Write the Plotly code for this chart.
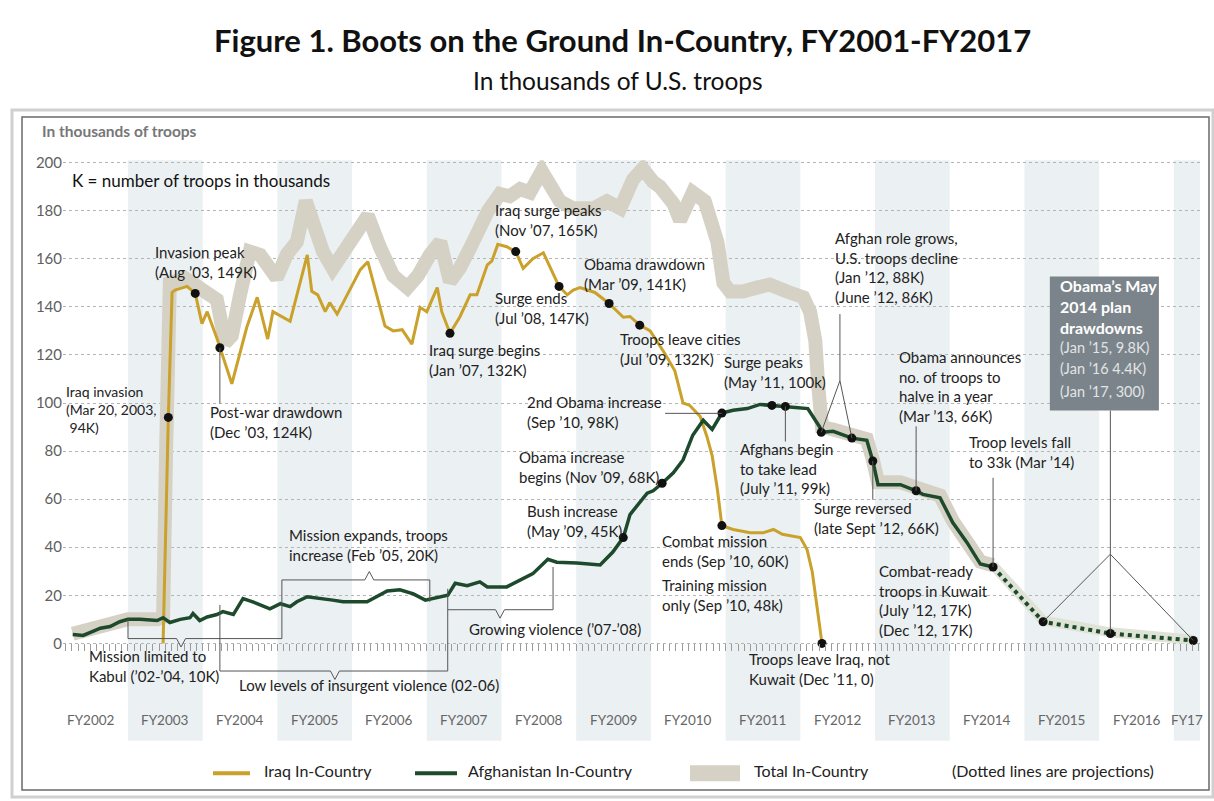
import plotly.graph_objects as go

W, H = 1214, 801

# ---------------- data (decimal calendar years, thousands of troops) ----------------
iraq_t = [2003.22, 2003.29, 2003.34, 2003.38, 2003.54, 2003.65, 2003.74, 2003.81, 2003.94, 2003.98,
          2004.14, 2004.34, 2004.48, 2004.62, 2004.69, 2004.92, 2005.15, 2005.21, 2005.29, 2005.39,
          2005.45, 2005.55, 2005.86, 2005.96, 2006.08, 2006.19, 2006.30, 2006.42, 2006.55, 2006.66,
          2006.75, 2006.89, 2006.95, 2007.06, 2007.19, 2007.33, 2007.42, 2007.56, 2007.62, 2007.70,
          2007.82, 2007.94, 2008.04, 2008.17, 2008.31, 2008.43, 2008.52, 2008.63, 2008.71, 2008.80,
          2009.00, 2009.19, 2009.38, 2009.47, 2009.60, 2009.74, 2009.94, 2010.07, 2010.18, 2010.27,
          2010.41, 2010.50, 2010.57, 2010.64, 2010.70, 2010.85, 2011.08, 2011.25, 2011.39, 2011.51,
          2011.75, 2011.84, 2011.91, 2011.97, 2012.04]
iraq_k = [0, 94, 146, 147, 148.5, 145.6, 133, 138, 127, 123,
          108, 131.5, 144, 126.6, 138, 134, 161.6, 146.5, 145, 138,
          141.8, 137, 155.5, 158.8, 145, 132, 130, 130.5, 124.5, 139.8,
          138, 148, 138, 129, 135.7, 145, 145, 157.5, 159, 166,
          165, 163, 156, 160, 162.5, 154.6, 148.5, 145, 147, 148,
          146, 141.4, 135.7, 136, 132.4, 130, 120.4, 113.4, 100, 99,
          94.4, 86, 78, 64, 49, 47.4, 46, 46, 47.4, 45.4,
          44, 39, 29.7, 16, 0]

afghan_t = [2002.01, 2002.15, 2002.28, 2002.38, 2002.51, 2002.64, 2002.75, 2002.91, 2003.14, 2003.22,
            2003.31, 2003.45, 2003.58, 2003.62, 2003.71, 2003.81, 2003.94, 2004.02, 2004.16, 2004.29,
            2004.42, 2004.65, 2004.79, 2004.92, 2005.01, 2005.15, 2005.49, 2005.63, 2005.95, 2006.22,
            2006.39, 2006.57, 2006.73, 2007.03, 2007.13, 2007.29, 2007.46, 2007.56, 2007.82, 2008.00,
            2008.17, 2008.37, 2008.49, 2008.76, 2009.07, 2009.24, 2009.38, 2009.47, 2009.56, 2009.70,
            2009.78, 2009.90, 2010.05, 2010.18, 2010.31, 2010.45, 2010.57, 2010.70, 2010.85, 2011.04,
            2011.21, 2011.37, 2011.55, 2011.85, 2012.01, 2012.03, 2012.19, 2012.44, 2012.64, 2012.72,
            2012.79, 2013.09, 2013.30, 2013.39, 2013.62, 2013.79, 2013.98, 2014.16, 2014.33]
afghan_k = [3.7, 3.3, 5, 6.3, 7, 9, 10, 10, 9.5, 10.7,
            8.7, 10, 10.7, 12.4, 9.5, 11, 12, 13.2, 12, 18.6,
            17.3, 14.4, 16.5, 15.3, 17.3, 19.4, 18, 17.3, 17.3, 21.8,
            22.3, 20.6, 18, 20, 25, 24, 25.6, 23.5, 23.5, 26.4,
            29, 35, 33.8, 33.4, 32.6, 38, 44, 53.6, 57, 62.5,
            63.5, 66.6, 71, 76.3, 86.6, 92.8, 89, 95.8, 97, 97.7,
            99.4, 99, 98.6, 97.7, 90, 87.8, 88.2, 85.4, 84.5, 75.9,
            66, 66, 63.5, 62, 60.6, 50.3, 42, 33, 31.8]

afghan_proj_t = [2014.33, 2015.00, 2015.90, 2017.01]
afghan_proj_k = [31.8, 9.0, 4.1, 1.2]

total_t = [2002.01, 2002.38, 2002.75, 2003.14, 2003.22, 2003.26, 2003.31, 2003.51, 2003.71, 2003.85,
           2003.94, 2004.05, 2004.14, 2004.25, 2004.38, 2004.52, 2004.61, 2004.74, 2004.88, 2005.01,
           2005.13, 2005.23, 2005.36, 2005.49, 2005.63, 2005.86, 2005.96, 2006.12, 2006.30, 2006.49,
           2006.63, 2006.79, 2006.93, 2007.06, 2007.19, 2007.33, 2007.46, 2007.57, 2007.73, 2007.86,
           2008.00, 2008.13, 2008.29, 2008.43, 2008.53, 2008.71, 2008.98, 2009.16, 2009.34, 2009.51,
           2009.64, 2009.78, 2009.87, 2010.05, 2010.14, 2010.31, 2010.47, 2010.64, 2010.72, 2010.81,
           2010.98, 2011.17, 2011.34, 2011.57, 2011.79, 2011.88, 2011.95, 2011.99, 2012.04, 2012.19,
           2012.44, 2012.64, 2012.72, 2012.79, 2013.09, 2013.30, 2013.39, 2013.62, 2013.79, 2013.98,
           2014.16, 2014.33]
total_k = [4, 6.5, 10, 10, 11, 80, 150, 152, 148, 146,
           143, 125, 128, 145, 163, 161.6, 157.5, 152, 162, 167,
           184, 175, 163, 156, 162, 174, 178, 165, 153, 148,
           153, 161.6, 167, 150.5, 156, 164.5, 174, 180, 187, 186,
           189, 187.6, 196.5, 190.5, 184, 181, 181, 184, 181, 193,
           197.5, 192, 190, 183, 176, 187.6, 184, 167, 150, 146.4,
           146.4, 148, 149.3, 146.4, 144, 138, 126, 107, 90, 89,
           86, 85, 76.5, 67, 67, 64.5, 63, 61.5, 51, 43,
           34, 32.5]
total_proj_t = [2014.33, 2015.00, 2015.90, 2017.01]
total_proj_k = [32.5, 9.6, 4.6, 1.5]

iraq_event_t = [2003.29, 2003.65, 2003.98, 2007.06, 2007.94, 2008.52, 2009.19, 2009.60, 2010.70, 2012.04]
iraq_event_k = [94, 145.6, 123, 129, 163, 148.5, 141.4, 132.4, 49, 0]
afghan_event_t = [2009.38, 2009.90, 2010.70, 2011.37, 2011.55, 2012.03, 2012.44, 2012.72, 2013.30,
                  2014.33, 2015.00, 2015.90, 2017.01]
afghan_event_k = [44, 66.6, 95.8, 99, 98.6, 87.8, 85.4, 75.9, 63.5, 31.8, 9.0, 4.1, 1.2]

fy_years = list(range(2002, 2018))
fy_labels = ["FY2002", "FY2003", "FY2004", "FY2005", "FY2006", "FY2007", "FY2008", "FY2009",
             "FY2010", "FY2011", "FY2012", "FY2013", "FY2014", "FY2015", "FY2016", "FY17"]
shaded_fy = [2003, 2005, 2007, 2009, 2011, 2013, 2015, 2017]
y_ticks = [0, 20, 40, 60, 80, 100, 120, 140, 160, 180, 200]

# ---------------- styling / geometry ----------------
FONT = "Lato, Roboto, sans-serif"
GOLD = "#c9a12b"
GREEN = "#1d4a2c"
BEIGE = "#d5d2c5"
BAND = "#ebf0f2"
TXT = "#222222"
ANN_SIZE = 15
Y_SHIFT = 2.2   # lift of top-anchored text blocks (thousands)

X_RANGE = [2001.88, 2017.10]
Y_RANGE = [-40.5, 201]
X_DOM = [63 / W, 1200 / W]
Y_DOM = [1 - 740.2 / H, 1 - 154.6 / H]
zero_pos = Y_DOM[0] + (0 - Y_RANGE[0]) / (Y_RANGE[1] - Y_RANGE[0]) * (Y_DOM[1] - Y_DOM[0])


def px(x):
    return x / W


def py(y):
    return 1 - y / H


fig = go.Figure()

# total band
fig.add_trace(go.Scatter(x=total_t, y=total_k, mode="lines",
                         line=dict(color=BEIGE, width=14), hoverinfo="skip", showlegend=False))
fig.add_trace(go.Scatter(x=total_proj_t, y=total_proj_k, mode="lines",
                         line=dict(color="#dfe3d5", width=10), hoverinfo="skip", showlegend=False))
# Iraq
fig.add_trace(go.Scatter(x=iraq_t, y=iraq_k, mode="lines",
                         line=dict(color=GOLD, width=3), showlegend=False))
# Afghanistan
fig.add_trace(go.Scatter(x=afghan_t, y=afghan_k, mode="lines",
                         line=dict(color=GREEN, width=3.5), showlegend=False))
fig.add_trace(go.Scatter(x=afghan_proj_t, y=afghan_proj_k, mode="lines",
                         line=dict(color=GREEN, width=4, dash="dot"), showlegend=False))
# event dots
fig.add_trace(go.Scatter(x=iraq_event_t + afghan_event_t, y=iraq_event_k + afghan_event_k,
                         mode="markers", marker=dict(color="#111111", size=9), showlegend=False))

shapes = []
# shaded fiscal-year bands (FY runs Oct 1 of previous year to Sep 30)
for fy in shaded_fy:
    shapes.append(dict(type="rect", xref="x", yref="y domain", x0=fy - 0.25, x1=fy + 0.75,
                       y0=0, y1=1, fillcolor=BAND, line=dict(width=0), layer="below"))

LEAD = dict(color="#555555", width=1)


def seg(x0, y0, x1, y1):
    shapes.append(dict(type="line", xref="x", yref="y", x0=x0, y0=y0, x1=x1, y1=y1, line=LEAD))


# leader lines
seg(iraq_event_t[2], iraq_event_k[2], iraq_event_t[2], 99.8)
seg(2009.94, 95.7, afghan_event_t[2], 95.7)
seg(afghan_event_t[4], afghan_event_k[4], afghan_event_t[4], 84.0)
seg(2012.28, 137, 2012.28, 109.3)
seg(2012.28, 109.3, afghan_event_t[5], afghan_event_k[5])
seg(2012.28, 109.3, afghan_event_t[6], afghan_event_k[6])
seg(afghan_event_t[8], 90.3, afghan_event_t[8], afghan_event_k[8])
seg(afghan_event_t[7], afghan_event_k[7], afghan_event_t[7], 59.8)
seg(afghan_event_t[9], 68.9, afghan_event_t[9], afghan_event_k[9])
seg(2015.90, 96.9, 2015.90, 37.1)
seg(2015.90, 37.1, afghan_event_t[10], afghan_event_k[10])
seg(2015.90, 37.1, afghan_event_t[11], afghan_event_k[11])
seg(2015.90, 37.1, afghan_event_t[12], afghan_event_k[12])


def bracket(x0, x1, y, yend0, yend1, xm, notch):
    d = 0.06
    path = (f"M {x0},{yend0} L {x0},{y} L {xm - d},{y} L {xm},{y + notch} "
            f"L {xm + d},{y} L {x1},{y} L {x1},{yend1}")
    shapes.append(dict(type="path", xref="x", yref="y", path=path, line=LEAD))


bracket(2002.75, 2004.81, 2.0, 10.0, 26.4, 2003.46, -3.5)     # mission limited to Kabul
bracket(2004.81, 2006.79, 26.4, 26.4, 17.3, 2005.98, 3.5)     # mission expands
bracket(2003.98, 2007.03, -11.5, 16.0, 22.7, 2005.52, -3.5)   # low levels of violence
bracket(2007.03, 2008.44, 14.0, 14.0, 31.8, 2007.73, -3.5)    # growing violence

# Obama plan box
shapes.append(dict(type="rect", xref="x", yref="y", x0=2015.09, x1=2016.55, y0=96.9, y1=152.6,
                   fillcolor="#7b848a", line=dict(width=0)))

# frame
shapes.append(dict(type="rect", xref="paper", yref="paper", x0=px(12), x1=px(1213), y0=py(797), y1=py(104),
                   line=dict(color="#d0d0d0", width=3)))
shapes.append(dict(type="rect", xref="paper", yref="paper", x0=px(22), x1=px(1209), y0=py(790), y1=py(111),
                   line=dict(color="#6a6a6a", width=1.5)))

# legend samples
LY = 773
shapes.append(dict(type="line", xref="paper", yref="paper", x0=px(213), x1=px(250), y0=py(LY), y1=py(LY),
                   line=dict(color=GOLD, width=4)))
shapes.append(dict(type="line", xref="paper", yref="paper", x0=px(415), x1=px(457), y0=py(LY), y1=py(LY),
                   line=dict(color=GREEN, width=4)))
shapes.append(dict(type="rect", xref="paper", yref="paper", x0=px(690), x1=px(740), y0=py(LY + 8),
                   y1=py(LY - 8), fillcolor=BEIGE, line=dict(width=0)))

annotations = []


def note(x, y, text, size=ANN_SIZE, color=TXT, bold=False, xanchor="left", yanchor="top", xref="x", yref="y",
         family=FONT):
    annotations.append(dict(x=x, y=y, xref=xref, yref=yref, text=(f"<b>{text}</b>" if bold else text),
                            showarrow=False, xanchor=xanchor, yanchor=yanchor, align="left",
                            font=dict(family=family, size=size, color=color)))


blocks = [
    (2003.08, 165.4, "Invasion peak<br>(Aug ’03, 149K)"),
    (2003.82, 98.6, "Post-war drawdown<br>(Dec ’03, 124K)"),
    (2006.75, 124.5, "Iraq surge begins<br>(Jan ’07, 132K)"),
    (2007.64, 182.7, "Iraq surge peaks<br>(Nov ’07, 165K)"),
    (2007.64, 146.0, "Surge ends<br>(Jul ’08, 147K)"),
    (2008.83, 160.4, "Obama drawdown<br>(Mar ’09, 141K)"),
    (2009.31, 129.0, "Troops leave cities<br>(Jul ’09, 132K)"),
    (2010.70, 119.6, "Surge peaks<br>(May ’11, 100k)"),
    (2008.06, 102.7, "2nd Obama increase<br>(Sep ’10, 98K)"),
    (2007.96, 80.0, "Obama increase<br>begins (Nov ’09, 68K)"),
    (2008.06, 57.3, "Bush increase<br>(May ’09, 45K)"),
    (2009.87, 45.0, "Combat mission<br>ends (Sep ’10, 60K)"),
    (2009.87, 26.8, "Training mission<br>only (Sep ’10, 48k)"),
    (2010.92, 83.3, "Afghans begin<br>to take lead<br>(July ’11, 99k)"),
    (2012.19, 171.1, "Afghan role grows,<br>U.S. troops decline<br>(Jan ’12, 88K)<br>(June ’12, 86K)"),
    (2013.04, 121.6, "Obama announces<br>no. of troops to<br>halve in a year<br>(Mar ’13, 66K)"),
    (2011.91, 58.6, "Surge reversed<br>(late Sept ’12, 66K)"),
    (2013.98, 86.2, "Troop levels fall<br>to 33k (Mar ’14)"),
    (2012.78, 32.6, "Combat-ready<br>troops in Kuwait<br>(July ’12, 17K)<br>(Dec ’12, 17K)"),
    (2011.04, -4.1, "Troops leave Iraq, not<br>Kuwait (Dec ’11, 0)"),
    (2002.20, -2.9, "Mission limited to<br>Kabul (’02-’04, 10K)"),
    (2004.88, 47.4, "Mission expands, troops<br>increase (Feb ’05, 20K)"),
    (2007.29, 8.2, "Growing violence (’07-’08)"),
    (2004.21, -14.8, "Low levels of insurgent violence (02-06)"),
]
for bx, by, bt in blocks:
    note(bx, by + Y_SHIFT, bt)
note(2001.90, 106.8 + Y_SHIFT, "Iraq invasion<br>(Mar 20, 2003,<br> 94K)", size=14)

# box texts
note(2015.20, 150.9 + 2.8, "Obama’s May<br>2014 plan<br>drawdowns", size=16, color="white", bold=True)
for yy, tt in [(121.6, "(Jan ’15, 9.8K)"), (112.6, "(Jan ’16 4.4K)"), (103.1, "(Jan ’17, 300)")]:
    note(2015.20, yy + 1.6, tt, size=14.5, color="#e1e5e8", yanchor="middle")

# fiscal year labels (centred in each fiscal year; the last one in its visible part)
fy_x = [fy + 0.25 for fy in fy_years[:-1]] + [(fy_years[-1] - 0.25 + X_RANGE[1]) / 2]
for xx, lab in zip(fy_x, fy_labels):
    note(xx, -32, lab, size=13.5, color="#666666", xanchor="center", yanchor="middle")

# titles and side texts
note(px(622), py(33), "Figure 1. Boots on the Ground In-Country, FY2001-FY2017", size=31, bold=True,
     color="#111111", xanchor="center", yanchor="middle", xref="paper", yref="paper")
note(px(618), py(74), "In thousands of U.S. troops", size=24.5, color="#111111", xanchor="center",
     yanchor="middle", xref="paper", yref="paper")
note(px(40), py(125), "In thousands of troops", size=15.5, bold=True, color="#777777", yanchor="middle",
     xref="paper", yref="paper")
note(px(70), py(175), "K = number of troops in thousands", size=17, color="#111111", yanchor="middle",
     xref="paper", yref="paper")

# legend texts
for lx, lt in [(262, "Iraq In-Country"), (466, "Afghanistan In-Country"), (752, "Total In-Country"),
               (950, "(Dotted lines are projections)")]:
    note(px(lx), py(LY - 3), lt, size=16, color="#222222", yanchor="middle", xref="paper", yref="paper")

fig.update_layout(
    width=W, height=H, margin=dict(l=0, r=0, t=0, b=0),
    paper_bgcolor="white", plot_bgcolor="white",
    showlegend=False, shapes=shapes, annotations=annotations,
    font=dict(family=FONT, color=TXT),
    xaxis=dict(domain=X_DOM, range=X_RANGE, anchor="free", position=zero_pos,
               showgrid=False, zeroline=False, showline=False, showticklabels=False,
               tickmode="linear", tick0=2001.75, dtick=1 / 12, ticks="outside", ticklen=7,
               tickcolor="#9a9a9a", tickwidth=1),
    yaxis=dict(domain=Y_DOM, range=Y_RANGE, tickmode="array", tickvals=y_ticks,
               showgrid=True, griddash="dot", gridcolor="#b5b5b5", gridwidth=1,
               zeroline=False, showline=False, ticks="",
               tickfont=dict(family=FONT, size=15, color="#606060")),
)

fig.write_html("out.html", config={"displayModeBar": False},
               post_script="document.body.style.margin='0';document.body.style.overflow='hidden';")
